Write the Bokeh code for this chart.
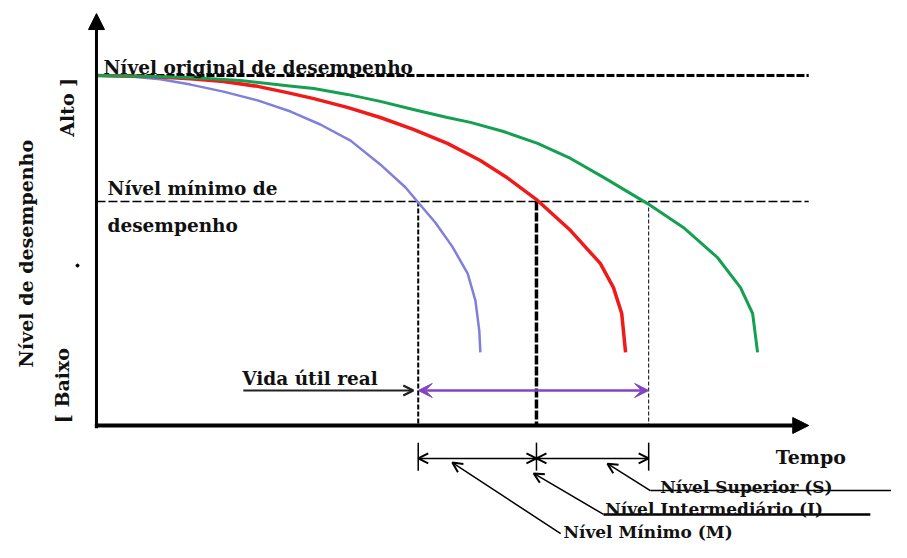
import math
from bokeh.plotting import figure
from bokeh.models import Range1d, Arrow, NormalHead, OpenHead, VeeHead, Label
from bokeh.embed import file_html
from bokeh.resources import INLINE

# ---- data (time units, performance level 0-100) ----
t_blue = [0, 6.2, 11.6, 17.1, 23.1, 29.3, 35.3, 40.7, 46.2, 51.6, 56.2, 58.5, 61.6, 64.7, 67.5, 68.9, 69.6, 69.8]
y_blue = [100, 99.7, 98.9, 97.4, 95.4, 92.9, 89.7, 86.0, 81.4, 74.6, 68.0, 63.7, 58.0, 51.1, 43.4, 35.7, 27.1, 20.9]

t_red = [0, 9.8, 17.1, 23.1, 29.3, 34.7, 39.5, 45.6, 51.6, 57.6, 63.8, 69.8, 74.4, 80.2, 86.2, 91.6, 94.0, 95.5, 96.2]
y_red = [100, 99.7, 99.1, 98.3, 96.9, 95.1, 93.4, 90.9, 88.0, 84.6, 80.6, 75.7, 71.1, 64.3, 55.7, 46.3, 39.4, 32.0, 20.9]

t_green = [0, 9.8, 17.1, 26.2, 34.7, 39.5, 45.6, 51.6, 57.6, 63.8, 68.0, 74.0, 80.2, 86.2, 92.2, 100.2, 106.7, 112.9, 117.1, 119.3, 120.2]
y_green = [100, 99.7, 99.4, 98.6, 97.1, 96.3, 94.6, 92.6, 90.3, 88.0, 86.6, 84.0, 80.6, 76.3, 70.9, 63.4, 56.6, 48.0, 39.4, 32.0, 20.9]

level_original = 100
level_minimum = 64
crossings = [58.5, 80.0, 100.4]   # Minimo, Intermediario, Superior
t_axis_end = 129.5
y_axis_end = 117.7

texts_top = ["Nível original de desempenho", "Nível mínimo de", "desempenho"]
text_life = "Vida útil real"
text_time = "Tempo"
text_ylabel = "Nível de desempenho"
text_high = "Alto ]"
text_low = "[ Baixo"
level_names = ["Nível Mínimo (M)", "Nível Intermediário (I)", "Nível Superior (S)"]

FONT = "DejaVu Serif"

p = figure(width=891, height=542, output_backend="svg", toolbar_location=None,
           x_range=Range1d(-17.45, 144.55), y_range=Range1d(-33.43, 121.43),
           min_border=0, outline_line_color=None)
p.axis.visible = False
p.grid.visible = False
p.background_fill_color = "white"

# level lines
p.line([0, t_axis_end], [level_original] * 2, line_color="black", line_width=3, line_dash="8 2")
p.line([0, t_axis_end], [level_minimum] * 2, line_color="black", line_width=1.5, line_dash="9 3")

# vertical crossing lines
vstyles = [(2, "5 2"), (3.5, "9 2"), (1, "4 2")]
for t, (lw, dash) in zip(crossings, vstyles):
    p.line([t, t], [level_minimum, 0], line_color="black", line_width=lw, line_dash=dash)

# curves
p.line(t_blue, y_blue, line_color="#7f7fdc", line_width=2.5, line_join="round")
p.line(t_red, y_red, line_color="#f01a1a", line_width=3.5, line_join="round")
p.line(t_green, y_green, line_color="#14a050", line_width=3, line_join="round")

# axes with arrows
p.add_layout(Arrow(end=NormalHead(size=16, fill_color="black", line_color="black"),
                   x_start=0, y_start=-0.8, x_end=0, y_end=y_axis_end,
                   line_color="black", line_width=3))
p.add_layout(Arrow(end=NormalHead(size=16, fill_color="black", line_color="black"),
                   x_start=-0.3, y_start=0, x_end=t_axis_end, y_end=0,
                   line_color="black", line_width=4))

# purple double arrow (real service life)
purple = "#8044c4"
y_life = 10
p.add_layout(Arrow(start=VeeHead(size=14, fill_color=purple, line_color=purple),
                   end=VeeHead(size=14, fill_color=purple, line_color=purple),
                   x_start=crossings[0], y_start=y_life, x_end=crossings[2], y_end=y_life,
                   line_color=purple, line_width=2.5))
# "Vida util real" pointer
p.add_layout(Arrow(end=OpenHead(size=10, line_color="#222222", line_width=2.5),
                   x_start=26.7, y_start=y_life, x_end=crossings[0] - 0.9, y_end=y_life,
                   line_color="#222222", line_width=2))

# dimension arrows below the axis
y_dim = -9.4
for t in crossings:
    p.line([t, t], [-4.9, -12.9], line_color="black", line_width=1.5)
for a, b in [(crossings[0], crossings[1]), (crossings[1], crossings[2])]:
    p.add_layout(Arrow(start=OpenHead(size=10, line_color="black", line_width=2),
                       end=OpenHead(size=10, line_color="black", line_width=2),
                       x_start=a, y_start=y_dim, x_end=b, y_end=y_dim,
                       line_color="black", line_width=1.5))

# leader lines to level labels
leaders = [
    ((64.7, -10.6), (84.4, -30.9), None, 1.5),
    ((79.5, -13.7), (92.2, -25.4), 140.7, 2.5),
    ((92.9, -10.9), (100.7, -18.6), 150.0, 1.5),
]
for (s, e, hx, lw) in leaders:
    p.add_layout(Arrow(start=OpenHead(size=10, line_color="black", line_width=2),
                       end=None, x_start=s[0], y_start=s[1], x_end=e[0], y_end=e[1],
                       line_color="black", line_width=1.5))
    if hx is not None:
        p.line([e[0], hx], [e[1], e[1]], line_color="black", line_width=lw)

# dot on the y label side
p.scatter([-3.45], [45.7], size=3, color="black")

def lab(txt, x, y, size, angle=0, align="left", baseline="alphabetic"):
    p.add_layout(Label(x=x, y=y, text=txt, text_font=FONT, text_font_style="bold",
                       text_font_size=f"{size}px", text_color="#111111", angle=angle,
                       text_align=align, text_baseline=baseline))

lab(texts_top[0], 1.27, 102.3, 18.5)
lab(texts_top[1], 2, 67.7, 18.5)
lab(texts_top[2], 2, 57.1, 18.5)
lab(text_life, 26.5, 13.4, 18.5)
lab(text_time, 123.5, -8.9, 19)
lab(level_names[2], 102.5, -17.7, 17)
lab(level_names[1], 92.5, -24.0, 17)
lab(level_names[0], 84.9, -30.3, 17)
lab(text_ylabel, -12.9, 49.1, 19, angle=math.pi / 2, align="center", baseline="middle")
lab(text_high, -5.45, 90.9, 19, angle=math.pi / 2, align="center", baseline="middle")
lab(text_low, -6.2, 11.4, 19, angle=math.pi / 2, align="center", baseline="middle")

open("out.html", "w").write(file_html(p, INLINE))
